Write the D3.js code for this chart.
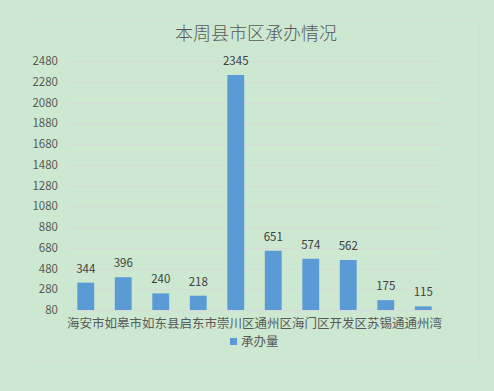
<!DOCTYPE html>
<html>
<head>
<meta charset="utf-8">
<script src="https://cdn.jsdelivr.net/npm/d3@7"></script>
<style>
  body { margin: 0; background: #cde8d0; }
  svg { display: block; }
</style>
</head>
<body>
<svg id="chart" width="494" height="391"></svg>
<script>
let categories = ["海安市", "如皋市", "如东县", "启东市", "崇川区", "通州区", "海门区", "开发区", "苏锡通", "通州湾"];
let values = [344, 396, 240, 218, 2345, 651, 574, 562, 175, 115];
let yTicks = [80, 280, 480, 680, 880, 1080, 1280, 1480, 1680, 1880, 2080, 2280, 2480];
let seriesName = "承办量";
let chartTitle = "本周县市区承办情况";

let svg = d3.select('#chart');
let font = "'Noto Sans CJK SC', 'Microsoft YaHei', sans-serif";
let textColor = "#595959";

let plot = {l: 67, r: 442, t: 61, b: 310};

// outer chart frame
svg.append("rect")
    .attr("x", 29.5).attr("y", 19.5)
    .attr("width", 450).attr("height", 342)
    .attr("fill", "none")
    .attr("stroke", "#d6dcd6");

svg.append("text")
    .attr("x", 256).attr("y", 40)
    .attr("text-anchor", "middle")
    .attr("font-family", font)
    .attr("font-size", "18px")
    .attr("font-weight", 300)
    .attr("fill", textColor)
    .text(chartTitle);

let x = d3.scaleBand().domain(categories).range([plot.l, plot.r]).paddingInner(0.55).paddingOuter(0.275);
let y = d3.scaleLinear().domain([80, 2480]).range([plot.b, plot.t]);

// gridlines
svg.append("g").selectAll("line")
    .data(yTicks)
    .enter().append("line")
    .attr("x1", plot.l).attr("x2", plot.r)
    .attr("y1", d => Math.round(y(d)) + 0.5)
    .attr("y2", d => Math.round(y(d)) + 0.5)
    .attr("stroke", "#d9d9d9")
    .attr("stroke-width", 1);

// y axis labels
let yAxis = svg.append("g")
    .attr("transform", "translate(" + plot.l + ",0)")
    .call(d3.axisLeft(y).tickValues(yTicks).tickFormat(d3.format("d")).tickSize(0).tickPadding(9));
yAxis.select(".domain").remove();
yAxis.selectAll("text")
    .attr("font-family", font)
    .attr("font-size", "11.5px")
    .attr("fill", textColor);

// bars
svg.append("g").selectAll("rect")
    .data(values)
    .enter().append("rect")
    .attr("x", (d, i) => x(categories[i]))
    .attr("y", d => y(d))
    .attr("width", x.bandwidth())
    .attr("height", d => y(80) - y(d))
    .attr("fill", "#5b9bd5");

// data labels
svg.append("g").selectAll("text")
    .data(values)
    .enter().append("text")
    .attr("x", (d, i) => x(categories[i]) + x.bandwidth() / 2)
    .attr("y", d => y(d) - 10)
    .attr("text-anchor", "middle")
    .attr("font-family", font)
    .attr("font-size", "11.5px")
    .attr("fill", "#404040")
    .text(d => d);

// x axis labels
let xAxis = svg.append("g")
    .attr("transform", "translate(0," + plot.b + ")")
    .call(d3.axisBottom(x).tickSize(0).tickPadding(9));
xAxis.select(".domain").remove();
xAxis.selectAll("text")
    .attr("font-family", font)
    .attr("font-size", "12.5px")
    .attr("fill", textColor);

// legend
svg.append("rect")
    .attr("x", 230).attr("y", 338)
    .attr("width", 7).attr("height", 7)
    .attr("fill", "#5b9bd5");
svg.append("text")
    .attr("x", 241).attr("y", 346)
    .attr("font-family", font)
    .attr("font-size", "12.5px")
    .attr("fill", textColor)
    .text(seriesName);
</script>
</body>
</html>
